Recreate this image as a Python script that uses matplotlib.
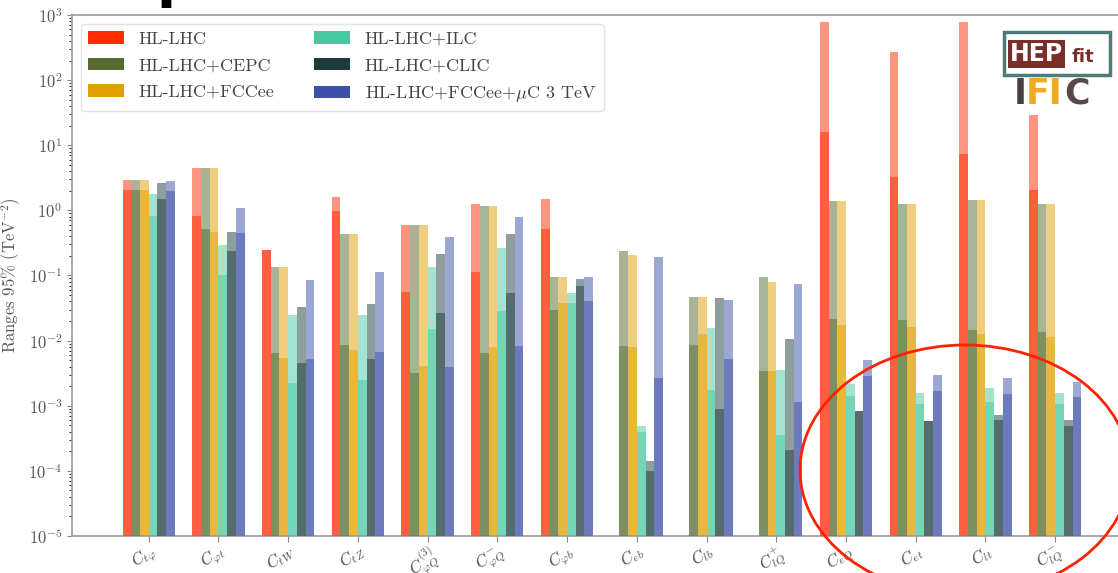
import numpy as np
import matplotlib
matplotlib.use('Agg')
import matplotlib.pyplot as plt
from matplotlib.patches import Patch, Ellipse, Rectangle

plt.rcParams['font.family'] = 'serif'
plt.rcParams['font.serif'] = ['cmr10', 'DejaVu Serif']
plt.rcParams['mathtext.fontset'] = 'cm'
plt.rcParams['axes.formatter.use_mathtext'] = True

nan = np.nan

# operators on the x axis
labels = [r'$C_{t\varphi}$', r'$C_{\varphi t}$', r'$C_{tW}$', r'$C_{tZ}$',
          r'$C^{(3)}_{\varphi Q}$', r'$C^{-}_{\varphi Q}$', r'$C_{\varphi b}$',
          r'$C_{eb}$', r'$C_{lb}$', r'$C^{+}_{lQ}$', r'$C_{eQ}$', r'$C_{et}$',
          r'$C_{lt}$', r'$C^{-}_{lQ}$']

series = ['HL-LHC', 'HL-LHC+CEPC', 'HL-LHC+FCCee',
          'HL-LHC+ILC', 'HL-LHC+CLIC', r'HL-LHC+FCCee+$\mu$C 3 TeV']

# light part of each bar (upper value) and dark part (lower value), TeV^-2
hl_up = [2.96, 4.47, 0.25, 1.61, 0.605, 1.27, 1.51, nan, nan, nan, 790, 274, 790, 45]
hl_lo = [2.08, 0.81, 0.25, 0.97, 0.056, 0.112, 0.51, nan, nan, nan, 15.7, 3.25, 7.4, 2.08]
cepc_up = [2.96, 4.47, 0.136, 0.435, 0.605, 1.18, 0.0955, 0.236, 0.047, 0.094, 1.38, 1.27, 1.43, 1.27]
cepc_lo = [2.08, 0.52, 0.0065, 0.0086, 0.00315, 0.0065, 0.0294, 0.0083, 0.0086, 0.0034, 0.0217, 0.0207, 0.0144, 0.0137]
fcc_up = [2.9, 4.47, 0.136, 0.435, 0.6, 1.18, 0.0955, 0.205, 0.047, 0.079, 1.38, 1.27, 1.43, 1.27]
fcc_lo = [2.08, 0.46, 0.0055, 0.0072, 0.0041, 0.0081, 0.038, 0.0081, 0.0125, 0.0034, 0.0171, 0.0163, 0.0125, 0.0114]
ilc_up = [1.79, 0.29, 0.025, 0.0247, 0.136, 0.265, 0.053, 0.00049, 0.0158, 0.0035, 0.00213, 0.00159, 0.0019, 0.00159]
ilc_lo = [0.81, 0.10, 0.00226, 0.0025, 0.0152, 0.0284, 0.038, 0.00039, 0.00173, 0.00035, 0.00141, 0.00105, 0.00115, 0.00108]
clic_up = [2.63, 0.47, 0.033, 0.037, 0.217, 0.435, 0.089, 0.000143, 0.0455, 0.0107, 0.00083, 0.00058, 0.000714, 0.0006]
clic_lo = [1.5, 0.24, 0.0046, 0.0053, 0.0268, 0.053, 0.070, 0.0001, 0.00088, 0.00021, 0.00083, 0.00058, 0.0006, 0.00049]
muc_up = [2.79, 1.09, 0.085, 0.114, 0.39, 0.78, 0.0955, 0.19, 0.0414, 0.073, 0.005, 0.00297, 0.0027, 0.0023]
muc_lo = [1.96, 0.45, 0.0053, 0.0068, 0.004, 0.0083, 0.040, 0.0027, 0.0053, 0.00116, 0.00287, 0.00169, 0.0015, 0.00134]

upper = [hl_up, cepc_up, fcc_up, ilc_up, clic_up, muc_up]
lower = [hl_lo, cepc_lo, fcc_lo, ilc_lo, clic_lo, muc_lo]

colors = ['#ff2b00', '#556b2f', '#e0a000', '#48c8a0', '#1e3c3c', '#3c50aa']
txt = '#555555'

fig = plt.figure(figsize=(11.18, 5.73), dpi=100)
ax = fig.add_axes([0.0644, 0.0646, 0.948, 0.9092])

x = np.arange(len(labels))
w = 0.125
for i in range(6):
    pos = x - 0.375 + w * (i + 0.5)
    ax.bar(pos, upper[i], w, color=colors[i], alpha=0.5, linewidth=0, zorder=2)
    ax.bar(pos, lower[i], w, color=colors[i], alpha=0.5, linewidth=0, zorder=3)

ax.set_yscale('log')
ax.set_ylim(1e-5, 1e3)
ax.set_xlim(-1.1, 14.1)
ax.set_xticks(x)
ax.set_xticklabels(labels, rotation=32, ha='right', rotation_mode='anchor', fontsize=12, color=txt)
ax.tick_params(axis='y', labelsize=12, labelcolor=txt, color='#888888')
ax.tick_params(axis='x', color='#888888', pad=0, length=4)
ax.set_ylabel(r'Ranges 95% (TeV$^{-2}$)', fontsize=12, color=txt)

for s in ['left', 'bottom', 'top', 'right']:
    ax.spines[s].set_color('#999999')
    ax.spines[s].set_linewidth(1.2)

handles = [Patch(facecolor=c, edgecolor='none') for c in colors]
leg = ax.legend(handles, series, loc='upper left', ncol=2, fontsize=13,
                frameon=True, edgecolor='#dddddd', labelcolor='#444444',
                handlelength=2.0, columnspacing=2.2, labelspacing=0.6)
leg.set_zorder(5)

# logo in the upper right corner
fig.add_artist(Rectangle((1004 / 1118, 1 - 75 / 573), 106 / 1118, 43 / 573,
                         transform=fig.transFigure, facecolor='white',
                         edgecolor='#4d7c78', linewidth=2.5, zorder=6))
fig.add_artist(Rectangle((1004 / 1118, 1 - 115 / 573), 106 / 1118, 40 / 573,
                         transform=fig.transFigure, facecolor='white',
                         edgecolor='none', zorder=5.5))
fig.text(1010 / 1118, 1 - 54 / 573, 'HEP', family='DejaVu Sans', weight='bold',
         fontsize=17, color='white', va='center', ha='left', zorder=7,
         bbox=dict(facecolor='#7a2e2a', edgecolor='none', pad=1.5))
fig.text(1072 / 1118, 1 - 57 / 573, 'fit', family='DejaVu Sans', weight='bold',
         fontsize=13, color='#7a2e2a', va='center', ha='left', zorder=7)
fig.text(1014 / 1118, 1 - 94 / 573, 'I', family='DejaVu Sans', weight='bold',
         fontsize=25, color='#4a4040', va='center', ha='left', zorder=7)
fig.text(1026 / 1118, 1 - 94 / 573, 'FI', family='DejaVu Sans', weight='bold',
         fontsize=25, color='#f0a828', va='center', ha='left', zorder=7)
fig.text(1064 / 1118, 1 - 94 / 573, 'C', family='DejaVu Sans', weight='bold',
         fontsize=25, color='#5a4848', va='center', ha='left', zorder=7)

# cut-off slide title glyph
fig.text(156 / 1118, 1 + 4 / 573, 'p', family='DejaVu Sans', weight='bold',
         fontsize=40, color='black', va='baseline', ha='left')

# hand-drawn highlight
fig.add_artist(Ellipse((965 / 1118, 1 - 470 / 573), 330 / 1118, 250 / 573,
                       transform=fig.transFigure, facecolor='none',
                       edgecolor='#ff2200', linewidth=2, zorder=8))

fig.savefig('out.png', dpi=100)
